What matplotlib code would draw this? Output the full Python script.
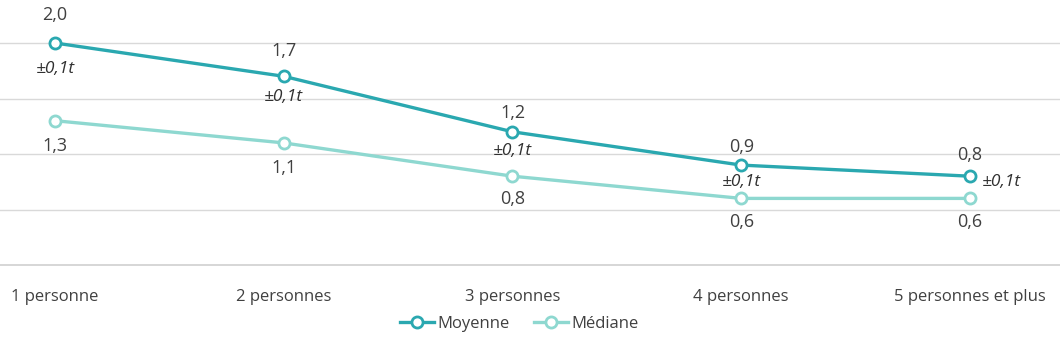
import matplotlib.pyplot as plt

categories = ['1 personne', '2 personnes', '3 personnes', '4 personnes', '5 personnes et plus']
moyenne = [2.0, 1.7, 1.2, 0.9, 0.8]
mediane = [1.3, 1.1, 0.8, 0.6, 0.6]
incertitude = ['±0,1t', '±0,1t', '±0,1t', '±0,1t', '±0,1t']

C_MOY = '#2aa8b0'
C_MED = '#8ed8d0'
TXT = '#404040'

# label offsets in pixels (placement only)
off_moy = [28, 25, 19, 18, 21]
off_err = [(0, -26), (0, -21), (0, -19), (0, -17), (12, -6)]
off_med = [-25, -25, -23, -24, -24]

plt.rcParams['font.family'] = ['Open Sans', 'DejaVu Sans']

fig = plt.figure(figsize=(10.6, 3.43), dpi=100)
ax = fig.add_axes([0, 78 / 343, 1, 265 / 343])

x = list(range(len(categories)))
ax.plot(x, moyenne, color=C_MOY, lw=2.4, marker='o', ms=8, mfc='white', mec=C_MOY, mew=2,
        label='Moyenne', zorder=4)
ax.plot(x, mediane, color=C_MED, lw=2.4, marker='o', ms=8, mfc='white', mec=C_MED, mew=2,
        label='Médiane', zorder=3)

def fmt(v):
    return f'{v:.1f}'.replace('.', ',')

for i, (m, d, e) in enumerate(zip(moyenne, mediane, incertitude)):
    ax.annotate(fmt(m), (i, m), xytext=(0, off_moy[i]), textcoords='offset pixels',
                ha='center', va='center', fontsize=13, color=TXT)
    dx, dy = off_err[i]
    ax.annotate(e, (i, m), xytext=(dx, dy), textcoords='offset pixels',
                ha='center' if dx == 0 else 'left', va='center', fontsize=12.5,
                style='italic', color='#303030')
    ax.annotate(fmt(d), (i, d), xytext=(0, off_med[i]), textcoords='offset pixels',
                ha='center', va='center', fontsize=13, color=TXT)

ax.set_xlim(-55 / 228.75, 4 + 90 / 228.75)
ax.set_ylim(0, 2.0 + 43 / 111)
ax.set_yticks([0.5, 1.0, 1.5, 2.0])
ax.yaxis.grid(True, color='#d9d9d9', lw=1)
ax.set_axisbelow(True)
ax.tick_params(axis='y', left=False, labelleft=False)
ax.tick_params(axis='x', bottom=False, colors=TXT, labelsize=12, pad=14)
ax.set_xticks(x)
ax.set_xticklabels(categories)
for s in ['top', 'right', 'left']:
    ax.spines[s].set_visible(False)
ax.spines['bottom'].set_color('#d0d0d0')
ax.spines['bottom'].set_linewidth(1.2)

leg = fig.legend(loc='center', bbox_to_anchor=(0.49, 1 - 324 / 343), ncol=2, frameon=False,
                 fontsize=12, handlelength=2.0, handletextpad=0.2, columnspacing=1.5)
for t in leg.get_texts():
    t.set_color(TXT)

fig.savefig('out.png', dpi=100)
